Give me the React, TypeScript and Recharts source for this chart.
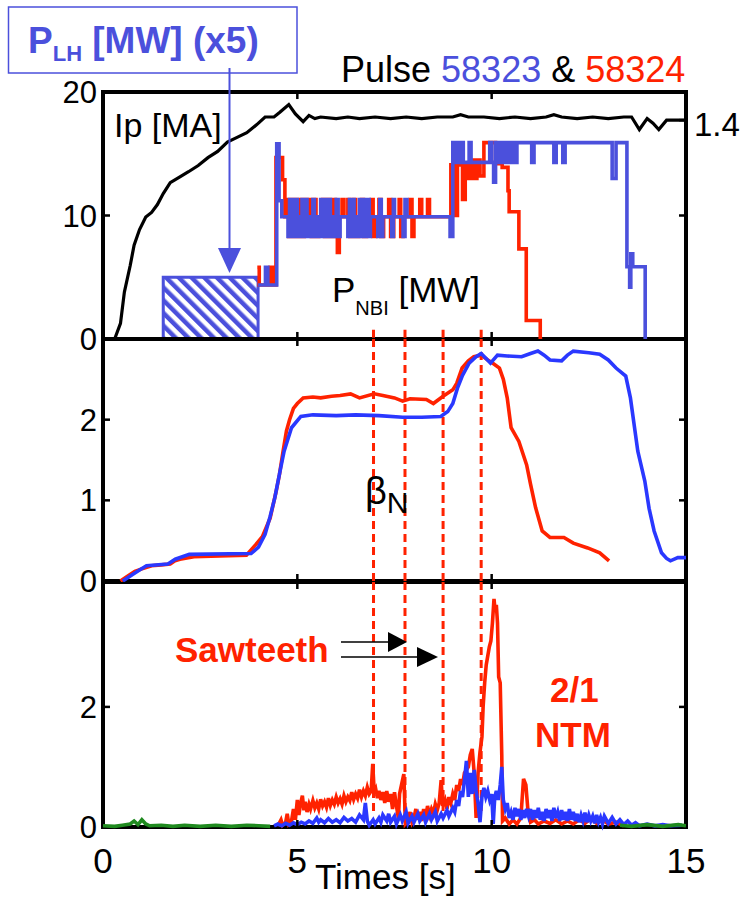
import React from "react";
import { ComposedChart, Line, Area, XAxis, YAxis, ReferenceLine, ReferenceArea } from "recharts";

const FONT = "'Liberation Sans', Arial, Helvetica, sans-serif";
const BLUE_NBI = "#4b50dc";
const RED = "#ff2200";
const BLUE = "#2a38ff";
const GREEN = "#1f8a1f";

type Pt = [number, number];

// top panel: plasma current [MA] (right scale), P_LH x5 and P_NBI [MW]
const ipMA: Pt[] = [
  [0, 0], [0.3, 0], [0.45, 0.1], [0.55, 0.3], [0.7, 0.47], [0.8, 0.6], [0.94, 0.7], [1.1, 0.78],
  [1.25, 0.81], [1.4, 0.86], [1.55, 0.93], [1.73, 1.0], [2.0, 1.04], [2.2, 1.07], [2.45, 1.11],
  [2.7, 1.16], [2.95, 1.2], [3.2, 1.26], [3.45, 1.29], [3.7, 1.32], [3.95, 1.37], [4.17, 1.42],
  [4.4, 1.42], [4.55, 1.45], [4.78, 1.5], [4.95, 1.44], [5.15, 1.39], [5.3, 1.43], [5.45, 1.41],
  [5.6, 1.42], [6.0, 1.41], [6.3, 1.42], [6.6, 1.41], [7.0, 1.42], [7.4, 1.41], [7.8, 1.42],
  [8.2, 1.41], [8.6, 1.42], [9.0, 1.42], [9.2, 1.435], [9.4, 1.42], [9.8, 1.42], [10.2, 1.41],
  [10.6, 1.42], [11.0, 1.41], [11.4, 1.42], [11.6, 1.435], [11.8, 1.42], [12.2, 1.41], [12.6, 1.42],
  [13.0, 1.41], [13.4, 1.42], [13.6, 1.42], [13.8, 1.34], [14.0, 1.41], [14.15, 1.38], [14.3, 1.34],
  [14.5, 1.4], [15, 1.4],
];

const plhX5: Pt[] = [[1.55, 0], [1.55, 5], [3.99, 5], [3.99, 0]];

const nbi58323: Pt[] = [
  [3.99, 4.37], [4.18, 5.8], [4.24, 4.37], [4.47, 15.8], [4.53, 11.2], [4.6, 9.9], [4.76, 8.3],
  [4.8, 11.3], [4.84, 8.3], [4.88, 11.3], [4.92, 8.3], [4.96, 11.3], [5.0, 8.3], [5.04, 9.9],
  [5.08, 8.3], [5.12, 11.3], [5.16, 8.3], [5.2, 11.3], [5.25, 8.3], [5.3, 9.9], [5.35, 8.3],
  [5.4, 11.3], [5.44, 8.3], [5.5, 9.9], [5.56, 8.3], [5.6, 11.3], [5.64, 8.3], [5.7, 11.3],
  [5.75, 8.3], [5.8, 11.3], [5.85, 8.3], [5.9, 9.9], [5.95, 8.3], [6.0, 11.3], [6.05, 8.3],
  [6.1, 9.9], [6.3, 8.3], [6.34, 11.3], [6.38, 8.3], [6.42, 11.3], [6.46, 8.3], [6.52, 9.9],
  [6.56, 8.3], [6.6, 11.3], [6.64, 8.3], [6.7, 11.3], [6.74, 8.3], [6.8, 11.3], [6.85, 8.3],
  [6.88, 9.9], [7.07, 8.3], [7.12, 11.3], [7.16, 8.3], [7.2, 9.9], [7.43, 8.3], [7.47, 11.3],
  [7.5, 9.9], [7.72, 8.3], [7.77, 11.3], [7.82, 9.9], [8.93, 8.3], [9.0, 15.9], [9.04, 14.3],
  [9.12, 15.9], [9.16, 14.3], [9.22, 15.9], [9.27, 14.3], [9.42, 15.9], [9.47, 14.3], [9.95, 15.9],
  [10.0, 14.3], [10.05, 12.7], [10.1, 15.9], [10.15, 14.3], [10.2, 15.9], [10.25, 14.3], [10.3, 15.9],
  [10.35, 14.3], [10.42, 15.9], [10.47, 14.3], [10.55, 15.9], [10.6, 14.3], [10.65, 15.9],
  [11.03, 14.3], [11.09, 15.9], [11.6, 14.3], [11.66, 15.9], [11.83, 14.3], [11.89, 15.9],
  [13.1, 13.0], [13.2, 15.9], [13.48, 5.85], [13.55, 4.2], [13.58, 6.9], [13.63, 5.85], [13.95, 0],
  [14.0, 0],
];

const nbi58324: Pt[] = [
  [3.97, 5.8], [4.02, 4.37], [4.3, 5.8], [4.38, 4.37], [4.45, 14.7], [4.62, 12.9], [4.68, 9.9],
  [4.72, 11.3], [4.78, 8.3], [4.82, 11.3], [4.86, 8.3], [4.95, 11.3], [5.0, 8.3], [5.06, 11.3],
  [5.12, 8.3], [5.18, 11.3], [5.22, 9.9], [5.3, 11.3], [5.36, 8.3], [5.42, 11.3], [5.48, 8.3],
  [5.55, 9.9], [5.65, 11.3], [5.7, 8.3], [5.78, 11.3], [5.84, 8.3], [5.92, 11.3], [5.98, 8.3],
  [6.03, 7.0], [6.08, 9.9], [6.15, 11.3], [6.2, 9.9], [6.3, 11.3], [6.35, 8.3], [6.45, 11.3],
  [6.5, 8.3], [6.58, 9.9], [6.65, 11.3], [6.7, 8.3], [6.78, 9.9], [6.9, 11.3], [6.95, 8.3],
  [7.02, 9.9], [7.1, 11.3], [7.15, 8.3], [7.22, 9.9], [7.35, 11.3], [7.4, 8.3], [7.48, 9.9],
  [7.62, 11.3], [7.66, 8.3], [7.72, 9.9], [7.9, 11.3], [7.95, 8.3], [8.0, 9.9], [8.15, 11.3],
  [8.2, 9.9], [8.35, 11.3], [8.4, 9.9], [8.95, 14.1], [9.05, 10.0], [9.12, 14.1], [9.25, 11.3],
  [9.32, 14.1], [9.4, 13.0], [9.48, 14.5], [9.55, 13.0], [9.62, 14.5], [9.7, 13.2], [9.8, 15.9],
  [10.1, 14.2], [10.27, 13.9], [10.42, 12.0], [10.45, 10.3], [10.7, 7.3], [10.89, 1.5], [11.25, 0],
  [11.3, 0],
];

// middle panel: beta_N
const betaN58324: Pt[] = [
  [0.45, 0], [0.6, 0.05], [0.82, 0.12], [1.0, 0.15], [1.25, 0.19], [1.5, 0.2], [1.73, 0.21],
  [1.85, 0.25], [1.98, 0.27], [2.34, 0.3], [3.0, 0.31], [3.69, 0.32], [3.93, 0.45], [4.1, 0.55],
  [4.3, 0.78], [4.45, 1.1], [4.54, 1.32], [4.63, 1.6], [4.72, 1.86], [4.8, 2.0], [4.9, 2.14],
  [5.0, 2.2], [5.15, 2.27], [5.4, 2.28], [5.6, 2.27], [5.88, 2.29], [6.1, 2.3], [6.37, 2.32],
  [6.6, 2.27], [6.98, 2.32], [7.2, 2.3], [7.5, 2.27], [7.71, 2.23], [7.9, 2.26], [8.32, 2.25],
  [8.5, 2.2], [8.75, 2.29], [9.0, 2.37], [9.1, 2.45], [9.24, 2.64], [9.4, 2.73], [9.54, 2.78],
  [9.73, 2.8], [9.9, 2.74], [10.03, 2.7], [10.2, 2.64], [10.3, 2.5], [10.4, 2.27], [10.5, 1.9],
  [10.7, 1.73], [10.9, 1.44], [11.0, 1.2], [11.13, 0.91], [11.3, 0.62], [11.5, 0.54], [11.86, 0.54],
  [12.1, 0.47], [12.47, 0.41], [12.78, 0.35], [13.02, 0.25],
];

const betaN58323: Pt[] = [
  [0.51, 0], [0.76, 0.08], [0.95, 0.14], [1.12, 0.19], [1.67, 0.21], [1.86, 0.27], [2.22, 0.33],
  [3.81, 0.34], [4.0, 0.42], [4.17, 0.58], [4.3, 0.8], [4.42, 1.03], [4.55, 1.35], [4.66, 1.61],
  [4.85, 1.9], [5.09, 2.04], [5.4, 2.06], [6.0, 2.05], [6.5, 2.06], [7.1, 2.05], [7.71, 2.03],
  [8.2, 2.03], [8.69, 2.04], [8.87, 2.1], [9.0, 2.2], [9.12, 2.39], [9.25, 2.55], [9.42, 2.7],
  [9.6, 2.78], [9.73, 2.82], [9.85, 2.76], [9.97, 2.7], [10.15, 2.8], [10.4, 2.79], [10.77, 2.78],
  [11.0, 2.82], [11.19, 2.85], [11.35, 2.8], [11.5, 2.74], [11.8, 2.73], [11.95, 2.8], [12.1, 2.85],
  [12.5, 2.83], [12.78, 2.81], [13.0, 2.74], [13.2, 2.64], [13.45, 2.54], [13.57, 2.27], [13.76, 1.61],
  [13.94, 1.24], [14.05, 0.9], [14.18, 0.62], [14.37, 0.35], [14.5, 0.28], [14.6, 0.25], [14.79, 0.29],
  [15.0, 0.29],
];

// bottom panel: MHD amplitude
const mhd58324: Pt[] = [
  [4.5, 0.02], [4.58, 0.12], [4.62, 0.03], [4.7, 0.08], [4.74, 0.22], [4.78, 0.05], [4.85, 0.1],
  [4.9, 0.3], [4.95, 0.12], [5.0, 0.45], [5.04, 0.2], [5.08, 0.38], [5.13, 0.52], [5.17, 0.28],
  [5.2, 0.42], [5.25, 0.25], [5.3, 0.38], [5.34, 0.3], [5.4, 0.44], [5.45, 0.32], [5.5, 0.4],
  [5.55, 0.3], [5.6, 0.46], [5.65, 0.35], [5.7, 0.42], [5.75, 0.33], [5.8, 0.48], [5.85, 0.36],
  [5.9, 0.45], [5.95, 0.38], [6.0, 0.5], [6.05, 0.4], [6.1, 0.47], [6.15, 0.38], [6.2, 0.52],
  [6.25, 0.42], [6.3, 0.5], [6.35, 0.44], [6.4, 0.58], [6.45, 0.46], [6.5, 0.55], [6.55, 0.48],
  [6.6, 0.62], [6.65, 0.5], [6.7, 0.6], [6.75, 0.52], [6.8, 0.66], [6.85, 0.55], [6.9, 0.6],
  [6.94, 1.05], [6.98, 0.55], [7.02, 0.62], [7.06, 0.48], [7.1, 0.6], [7.15, 0.45], [7.2, 0.58],
  [7.25, 0.4], [7.3, 0.6], [7.35, 0.42], [7.4, 0.55], [7.45, 0.3], [7.5, 0.58], [7.55, 0.35],
  [7.6, 0.15], [7.63, 0.55], [7.68, 0.7], [7.74, 0.88], [7.78, 0.05], [7.85, 0.1], [7.9, 0.25],
  [7.95, 0.08], [8.0, 0.15], [8.05, 0.3], [8.1, 0.12], [8.15, 0.25], [8.2, 0.1], [8.25, 0.3],
  [8.3, 0.15], [8.35, 0.35], [8.4, 0.2], [8.45, 0.3], [8.5, 0.22], [8.55, 0.38], [8.6, 0.28],
  [8.65, 0.4], [8.7, 0.78], [8.74, 0.35], [8.8, 0.45], [8.85, 0.3], [8.9, 0.5], [8.95, 0.4],
  [9.0, 0.55], [9.05, 0.45], [9.1, 0.7], [9.15, 0.6], [9.2, 0.8], [9.25, 0.7], [9.3, 0.9],
  [9.35, 0.95], [9.4, 1.0], [9.45, 1.2], [9.5, 1.3], [9.55, 0.9], [9.6, 0.15], [9.65, 0.9],
  [9.7, 1.25], [9.75, 1.5], [9.78, 2.0], [9.82, 2.4], [9.86, 2.7], [9.9, 2.85], [9.94, 3.0],
  [9.98, 3.1], [10.02, 3.4], [10.06, 3.8], [10.09, 3.6], [10.12, 3.7], [10.15, 3.4], [10.18, 2.5],
  [10.22, 2.4], [10.26, 1.2], [10.28, 0.1], [10.35, 0.15], [10.45, 0.05], [10.55, 0.12], [10.65, 0.05],
  [10.75, 0.15], [10.82, 0.8], [10.88, 0.7], [10.93, 0.3], [11.0, 0.08], [11.1, 0.12], [11.2, 0.05],
  [11.35, 0.1], [11.5, 0.06], [11.65, 0.12], [11.8, 0.05], [11.95, 0.1], [12.1, 0.05], [12.25, 0.12],
  [12.4, 0.06], [12.55, 0.14], [12.7, 0.06], [12.85, 0.12], [13.0, 0.05], [13.2, 0.08], [13.4, 0.02],
];

const mhd58323: Pt[] = [
  [4.4, 0.02], [4.5, 0.05], [4.6, 0.02], [4.7, 0.06], [4.8, 0.03], [4.9, 0.07], [5.0, 0.04],
  [5.1, 0.08], [5.2, 0.05], [5.3, 0.1], [5.4, 0.06], [5.5, 0.15], [5.55, 0.08], [5.6, 0.12],
  [5.7, 0.07], [5.8, 0.14], [5.9, 0.08], [6.0, 0.12], [6.1, 0.07], [6.2, 0.16], [6.3, 0.1],
  [6.4, 0.14], [6.5, 0.08], [6.6, 0.2], [6.7, 0.12], [6.75, 0.4], [6.8, 0.1], [6.85, 0.03],
  [6.95, 0.12], [7.0, 0.05], [7.1, 0.15], [7.15, 0.08], [7.2, 0.2], [7.3, 0.1], [7.35, 0.22],
  [7.4, 0.08], [7.5, 0.18], [7.55, 0.05], [7.65, 0.2], [7.7, 0.1], [7.8, 0.25], [7.85, 0.06],
  [7.95, 0.18], [8.0, 0.08], [8.1, 0.22], [8.15, 0.1], [8.25, 0.2], [8.3, 0.08], [8.4, 0.22],
  [8.45, 0.12], [8.55, 0.25], [8.6, 0.1], [8.7, 0.22], [8.75, 0.15], [8.85, 0.28], [8.9, 0.18],
  [9.0, 0.32], [9.05, 0.25], [9.1, 0.45], [9.15, 0.35], [9.2, 0.6], [9.25, 0.5], [9.3, 0.78],
  [9.35, 1.1], [9.4, 0.5], [9.45, 0.9], [9.5, 0.55], [9.55, 0.95], [9.6, 0.6], [9.65, 0.4],
  [9.7, 0.08], [9.75, 0.5], [9.8, 0.65], [9.85, 0.5], [9.9, 0.6], [9.95, 0.45], [10.0, 0.55],
  [10.04, 0.05], [10.08, 0.5], [10.12, 0.6], [10.17, 0.45], [10.22, 0.7], [10.26, 1.0], [10.3, 0.45],
  [10.35, 0.3], [10.4, 0.4], [10.45, 0.15], [10.5, 0.25], [10.55, 0.12], [10.6, 0.32], [10.65, 0.18],
  [10.7, 0.3], [10.75, 0.12], [10.8, 0.28], [10.85, 0.15], [10.9, 0.3], [10.95, 0.18], [11.0, 0.3],
  [11.05, 0.12], [11.1, 0.28], [11.15, 0.15], [11.2, 0.32], [11.25, 0.12], [11.3, 0.25], [11.35, 0.1],
  [11.4, 0.3], [11.45, 0.15], [11.5, 0.28], [11.55, 0.1], [11.6, 0.32], [11.65, 0.15], [11.7, 0.25],
  [11.75, 0.1], [11.8, 0.28], [11.85, 0.12], [11.9, 0.25], [11.95, 0.1], [12.0, 0.3], [12.05, 0.12],
  [12.1, 0.25], [12.15, 0.1], [12.2, 0.22], [12.25, 0.08], [12.3, 0.2], [12.35, 0.1], [12.4, 0.24],
  [12.45, 0.08], [12.5, 0.2], [12.55, 0.1], [12.6, 0.18], [12.65, 0.06], [12.7, 0.2], [12.75, 0.08],
  [12.8, 0.16], [12.85, 0.05], [12.9, 0.18], [13.0, 0.06], [13.1, 0.16], [13.2, 0.05], [13.3, 0.12],
  [13.4, 0.04], [13.5, 0.1], [13.6, 0.03], [13.7, 0.07], [13.8, 0.02], [14.0, 0.05], [14.2, 0.02],
  [14.4, 0.04], [14.6, 0.02], [14.9, 0.03],
];

const mhdGreenEarly: Pt[] = [
  [0, 0.02], [0.3, 0.01], [0.5, 0.03], [0.7, 0.05], [0.8, 0.1], [0.9, 0.04], [1.0, 0.12],
  [1.1, 0.05], [1.2, 0.02], [1.5, 0.03], [1.8, 0.01], [2.1, 0.03], [2.5, 0.01], [2.9, 0.03],
  [3.3, 0.01], [3.7, 0.03], [4.0, 0.02], [4.3, 0.01],
];
const mhdGreenLate: Pt[] = [
  [13.3, 0.03], [13.6, 0.01], [14.0, 0.04], [14.4, 0.01], [14.8, 0.04], [15, 0.02],
];

const sawtoothTimes = [6.96, 7.77, 8.75, 9.73];
const timeTicks = [0, 5, 10, 15];
const topTicks = [0, 10, 20];
const midTicks = [0, 1, 2];
const botTicks = [0, 2];

const rows = (pts: Pt[]) => pts.map(([t, v]) => ({ t, v }));

const W = 742;
const T_MAX = 15;
const TICK_DT = 0.18; // ~7px along the time axis

const xLabelTick = (props: any) => {
  const { x, y, payload } = props;
  return (
    <text x={x} y={y + 46} textAnchor="middle" fontSize={35} fontFamily={FONT} fill="#000">
      {payload.value}
    </text>
  );
};

const leftTick = (props: any) => {
  const { x, y, payload } = props;
  return (
    <text x={x - 6} y={y} dy="0.36em" textAnchor="end" fontSize={31} fontFamily={FONT} fill="#000">
      {payload.value}
    </text>
  );
};

const ipTick = (props: any) => {
  const { x, y, payload } = props;
  return (
    <text x={x + 8} y={y + 4} dy="0.36em" fontSize={33} fontFamily={FONT} fill="#000">
      {payload.value}
    </text>
  );
};

// panel box plus inward tick marks
function frameMarks(yMax: number, yTicks: number[], dy: number) {
  const k = "#000";
  const out: React.ReactNode[] = [
    <ReferenceArea key="box" xAxisId="b" yAxisId="L" x1={0} x2={T_MAX} y1={0} y2={yMax}
      fill="none" stroke={k} strokeWidth={4} ifOverflow="visible" />,
  ];
  [5, 10].forEach((t) => {
    out.push(
      <ReferenceLine key={`xb${t}`} xAxisId="b" yAxisId="L" segment={[{ x: t, y: 0 }, { x: t, y: dy }]} stroke={k} strokeWidth={2.5} ifOverflow="visible" />,
      <ReferenceLine key={`xt${t}`} xAxisId="b" yAxisId="L" segment={[{ x: t, y: yMax }, { x: t, y: yMax - dy }]} stroke={k} strokeWidth={2.5} ifOverflow="visible" />,
    );
  });
  yTicks.forEach((v) => {
    out.push(
      <ReferenceLine key={`yl${v}`} xAxisId="b" yAxisId="L" segment={[{ x: 0, y: v }, { x: TICK_DT, y: v }]} stroke={k} strokeWidth={2.5} ifOverflow="visible" />,
      <ReferenceLine key={`yr${v}`} xAxisId="b" yAxisId="L" segment={[{ x: T_MAX - TICK_DT, y: v }, { x: T_MAX, y: v }]} stroke={k} strokeWidth={2.5} ifOverflow="visible" />,
    );
  });
  return out;
}

const lineProps = { dot: false, activeDot: false, isAnimationActive: false, xAxisId: "b", yAxisId: "L", dataKey: "v" } as const;

export default function App() {
  const dash = "8 5";
  return (
    <div style={{ position: "absolute", left: 0, top: 0, width: W, height: 900, background: "#fff", fontFamily: FONT }}>
      {/* top panel */}
      <div style={{ position: "absolute", left: 0, top: 0 }}>
        <ComposedChart width={W} height={360} margin={{ top: 92, right: 0, bottom: 21, left: 0 }}>
          <defs>
            <pattern id="hatch" patternUnits="userSpaceOnUse" width="9" height="9" patternTransform="rotate(-45)">
              <rect x="0" y="0" width="4.5" height="9" fill={BLUE_NBI} />
            </pattern>
          </defs>
          <XAxis xAxisId="b" type="number" dataKey="t" domain={[0, T_MAX]} ticks={timeTicks} interval={0}
            allowDataOverflow height={0} tickSize={0} tickMargin={0} tickLine={false} axisLine={false} tick={false} />
          <YAxis yAxisId="L" type="number" domain={[0, 20]} ticks={topTicks} interval={0} width={103}
            tickSize={0} tickMargin={0} tickLine={false} axisLine={false} tick={leftTick} />
          <YAxis yAxisId="ip" orientation="right" type="number" domain={[0, 1.58]} ticks={[1.4]} interval={0} width={56}
            tickSize={0} tickMargin={0} tickLine={false} axisLine={false} tick={ipTick} />
          <Area xAxisId="b" yAxisId="L" data={rows(plhX5)} dataKey="v" type="linear" fill="url(#hatch)" fillOpacity={1}
            stroke={BLUE_NBI} strokeWidth={3} isAnimationActive={false} dot={false} activeDot={false} />
          <Line {...lineProps} yAxisId="ip" data={rows(ipMA)} type="linear" stroke="#000" strokeWidth={3.2} />
          <Line {...lineProps} data={rows(nbi58324)} type="stepAfter" stroke={RED} strokeWidth={3.6} />
          <Line {...lineProps} data={rows(nbi58323)} type="stepAfter" stroke={BLUE_NBI} strokeWidth={3.6} />
          {sawtoothTimes.map((t) => (
            <ReferenceLine key={t} xAxisId="b" yAxisId="L" segment={[{ x: t, y: 0.75 }, { x: t, y: 0 }]}
              stroke={RED} strokeWidth={3} strokeDasharray={dash} />
          ))}
          <ReferenceLine xAxisId="b" yAxisId="ip" segment={[{ x: T_MAX - TICK_DT, y: 1.4 }, { x: T_MAX, y: 1.4 }]} stroke="#000" strokeWidth={2.5} />
          {frameMarks(20, [10], 0.57)}
        </ComposedChart>
      </div>

      {/* middle panel */}
      <div style={{ position: "absolute", left: 0, top: 339 }}>
        <ComposedChart width={W} height={262} margin={{ top: 0, right: 56, bottom: 20, left: 0 }}>
          <XAxis xAxisId="b" type="number" dataKey="t" domain={[0, T_MAX]} ticks={timeTicks} interval={0}
            allowDataOverflow height={0} tickSize={0} tickMargin={0} tickLine={false} axisLine={false} tick={false} />
          <YAxis yAxisId="L" type="number" domain={[0, 3]} ticks={midTicks} interval={0} width={103}
            tickSize={0} tickMargin={0} tickLine={false} axisLine={false} tick={leftTick} />
          {sawtoothTimes.map((t) => (
            <ReferenceLine key={t} xAxisId="b" yAxisId="L" x={t} stroke={RED} strokeWidth={3} strokeDasharray={dash} />
          ))}
          <Line {...lineProps} data={rows(betaN58324)} type="linear" stroke={RED} strokeWidth={3.6} />
          <Line {...lineProps} data={rows(betaN58323)} type="linear" stroke={BLUE} strokeWidth={3.6} />
          {frameMarks(3, [1, 2], 0.087)}
        </ComposedChart>
      </div>

      {/* bottom panel */}
      <div style={{ position: "absolute", left: 0, top: 582 }}>
        <ComposedChart width={W} height={318} margin={{ top: 0, right: 56, bottom: 0, left: 0 }}>
          <XAxis xAxisId="b" type="number" dataKey="t" domain={[0, T_MAX]} ticks={timeTicks} interval={0}
            allowDataOverflow height={73} tickSize={0} tickMargin={0} tickLine={false} axisLine={false} tick={xLabelTick} />
          <YAxis yAxisId="L" type="number" domain={[0, 4.08]} ticks={botTicks} interval={0} width={103}
            tickSize={0} tickMargin={0} tickLine={false} axisLine={false} tick={leftTick} />
          {sawtoothTimes.map((t) => (
            <ReferenceLine key={t} xAxisId="b" yAxisId="L" segment={[{ x: t, y: 4.08 }, { x: t, y: 0.2 }]}
              stroke={RED} strokeWidth={3} strokeDasharray={dash} />
          ))}
          <Line {...lineProps} data={rows(mhd58324)} type="linear" stroke={RED} strokeWidth={3.6} />
          <Line {...lineProps} data={rows(mhd58323)} type="linear" stroke={BLUE} strokeWidth={3.6} />
          <Line {...lineProps} data={rows(mhdGreenEarly)} type="linear" stroke={GREEN} strokeWidth={3.6} />
          <Line {...lineProps} data={rows(mhdGreenLate)} type="linear" stroke={GREEN} strokeWidth={3.6} />
          {frameMarks(4.08, [2], 0.117)}
        </ComposedChart>
      </div>

      {/* annotations */}
      <svg width={W} height={900} style={{ position: "absolute", left: 0, top: 0, pointerEvents: "none" }} fontFamily={FONT}>
        <rect x={8.5} y={7} width={288.5} height={66} fill="#fff" stroke={BLUE_NBI} strokeWidth={1.5} />
        <text x={28} y={53} fontSize={37} fontWeight="bold" fill={BLUE_NBI}>
          P<tspan fontSize={22} dy={8}>LH</tspan>
          <tspan dy={-8}> [MW] (x5)</tspan>
        </text>
        <line x1={229.5} x2={229.5} y1={68} y2={250} stroke={BLUE_NBI} strokeWidth={2} />
        <polygon points="218,248 241,248 229.5,273" fill={BLUE_NBI} />

        <text x={341} y={82} fontSize={36} fill="#000">
          Pulse <tspan fill={BLUE_NBI}>58323</tspan> &amp; <tspan fill={RED}>58324</tspan>
        </text>
        <text x={114} y={137} fontSize={34} fill="#000">Ip [MA]</text>
        <text x={332} y={302} fontSize={35} fill="#000">
          P<tspan fontSize={20} dy={13}>NBI</tspan>
          <tspan dy={-13}> [MW]</tspan>
        </text>

        <text x={365} y={504} fontSize={38} fill="#000">
          β<tspan fontSize={30} dy={9}>N</tspan>
        </text>

        <text x={175} y={662} fontSize={35} fontWeight="bold" fill={RED}>Sawteeth</text>
        <line x1={341} x2={392} y1={642} y2={642} stroke="#000" strokeWidth={1.5} />
        <polygon points="388,632 388,652 407,642" fill="#000" />
        <line x1={341} x2={420} y1={657} y2={657} stroke="#000" strokeWidth={1.5} />
        <polygon points="417,647 417,667 438,657" fill="#000" />
        <text x={550} y={702} fontSize={35} fontWeight="bold" fill={RED}>2/1</text>
        <text x={535} y={747} fontSize={35} fontWeight="bold" fill={RED}>NTM</text>

        <text x={315} y={889} fontSize={35} fill="#000">Times [s]</text>
      </svg>
    </div>
  );
}
